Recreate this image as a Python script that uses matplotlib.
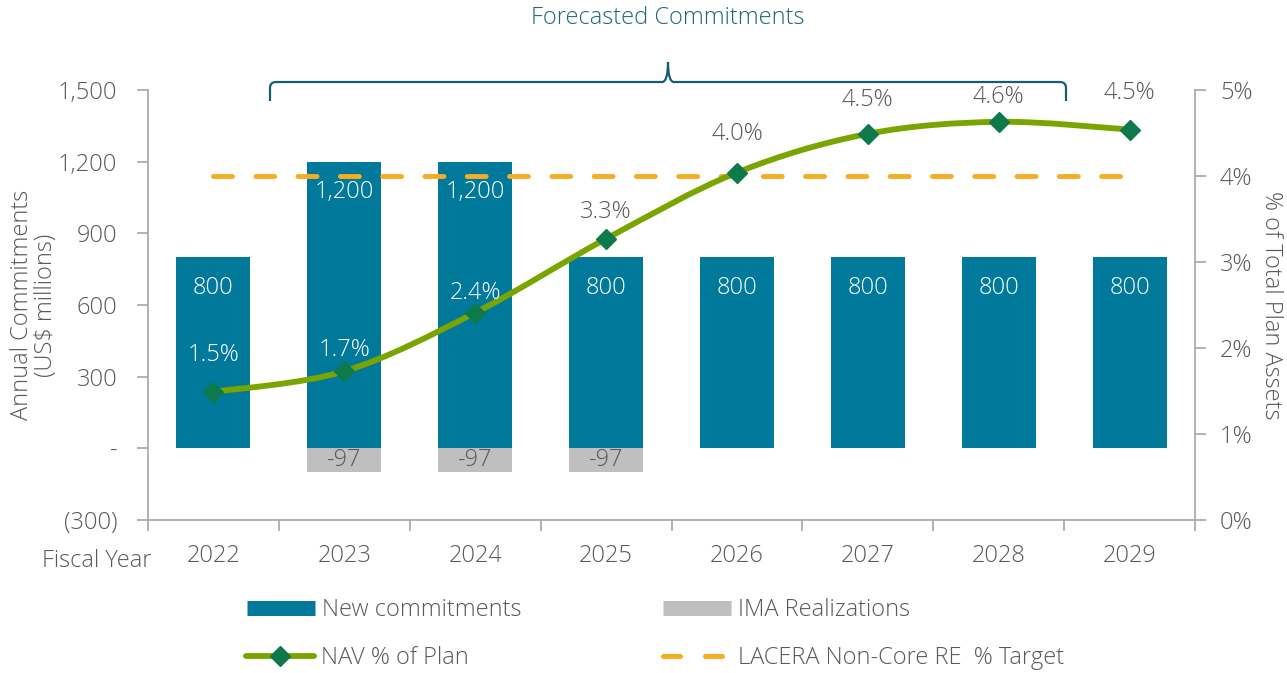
import matplotlib
matplotlib.use("Agg")
import matplotlib.pyplot as plt
from matplotlib.path import Path
from matplotlib.patches import PathPatch
from matplotlib.lines import Line2D
import numpy as np

plt.rcParams['font.family'] = ['Open Sans', 'DejaVu Sans']
plt.rcParams['font.weight'] = 'light'

years = ['2022', '2023', '2024', '2025', '2026', '2027', '2028', '2029']
new_commitments = [800, 1200, 1200, 800, 800, 800, 800, 800]
ima_realizations = [0, -97, -97, -97, 0, 0, 0, 0]
nav_pct = [1.49, 1.73, 2.41, 3.27, 4.04, 4.49, 4.63, 4.54]
target_pct = [4.0] * 8
left_ticks = [-300, 0, 300, 600, 900, 1200, 1500]
left_tick_labels = ['(300)', '-', '300', '600', '900', '1,200', '1,500']
right_ticks = [0, 1, 2, 3, 4, 5]

TEAL = '#00799A'
GRAY = '#BFBFBF'
GREEN = '#7AA500'
DKGREEN = '#0E7A4B'
ORANGE = '#F7AC22'
TXT = '#595959'
AXC = '#A6A6A6'
TITLE = '#1F6878'
FS = 17

W, H = 1287, 673
fig = plt.figure(figsize=(W / 100, H / 100), dpi=100)
ax = fig.add_axes([148 / W, 1 - 520 / H, (1195 - 148) / W, (520 - 90) / H])
ax2 = ax.twinx()

x = np.arange(len(years))
w = 0.565
ax.bar(x, new_commitments, width=w, color=TEAL, zorder=2)
ax.bar(x, ima_realizations, width=w, color=GRAY, zorder=2)

for xi, v in zip(x, new_commitments):
    ax.annotate(f'{v:,}', (xi, v), xytext=(0, -22), textcoords='offset points',
                ha='center', va='center', color='white', fontsize=FS)
for xi, v in zip(x, ima_realizations):
    if v != 0:
        ax.annotate(f'{v}', (xi, v / 2), ha='center', va='center', color=TXT, fontsize=FS)

ax.set_xlim(-0.5, len(years) - 0.5)
ax.set_ylim(-300, 1500)
ax.set_yticks(left_ticks)
ax.set_yticklabels(left_tick_labels)
ax.set_xticks(x)
ax.set_xticklabels(years)
ax.set_xticks(np.arange(-0.5, len(years)), minor=True)
ax.tick_params(axis='x', which='major', length=0, pad=17, labelsize=FS, labelcolor=TXT)
ax.tick_params(axis='x', which='minor', length=8, color=AXC, width=1.2)
ax.tick_params(axis='y', length=8, color=AXC, width=1.2, labelsize=FS, labelcolor=TXT, pad=14)
for s in ['top', 'right']:
    ax.spines[s].set_visible(False)
for s in ['left', 'bottom']:
    ax.spines[s].set_color(AXC)
    ax.spines[s].set_linewidth(1.2)

ax2.set_ylim(0, 5)
ax2.set_yticks(right_ticks)
ax2.set_yticklabels([f'{t}%' for t in right_ticks])
ax2.tick_params(axis='y', length=8, color=AXC, width=1.2, labelsize=FS, labelcolor=TXT, pad=10)
for s in ['top', 'left', 'bottom']:
    ax2.spines[s].set_visible(False)
ax2.spines['right'].set_color(AXC)
ax2.spines['right'].set_linewidth(1.2)

# target dashed line
ax2.plot(x, target_pct, color=ORANGE, lw=3.5, ls=(0, (3.9, 4.8)),
         dash_capstyle='round', zorder=3)

# smooth NAV line (Bezier rendering through data points)
px = x.astype(float)
py = np.array(nav_pct, dtype=float)
verts = [(px[0], py[0])]
codes = [Path.MOVETO]
n = len(px)
for i in range(n - 1):
    p0 = (px[max(i - 1, 0)], py[max(i - 1, 0)])
    p1 = (px[i], py[i])
    p2 = (px[i + 1], py[i + 1])
    p3 = (px[min(i + 2, n - 1)], py[min(i + 2, n - 1)])
    c1 = (p1[0] + (p2[0] - p0[0]) / 6, p1[1] + (p2[1] - p0[1]) / 6)
    c2 = (p2[0] - (p3[0] - p1[0]) / 6, p2[1] - (p3[1] - p1[1]) / 6)
    verts += [c1, c2, p2]
    codes += [Path.CURVE4] * 3
ax2.add_patch(PathPatch(Path(verts, codes), fill=False, edgecolor=GREEN, lw=4.2,
                        zorder=4, capstyle='round'))
ax2.plot(x, nav_pct, ls='none', marker='D', ms=10.5, color=DKGREEN, zorder=5)

label_colors = ['white', 'white', 'white', TXT, TXT, TXT, TXT, TXT]
offsets = [26.5, 15, 14, 19, 28, 24.5, 18, 26]
for xi, v, c, o in zip(x, nav_pct, label_colors, offsets):
    ax2.annotate(f'{v:.1f}%', (xi, v), xytext=(0, o), textcoords='offset points',
                 ha='center', va='center', color=c, fontsize=FS, zorder=6)

fig.text(22 / W, 1 - 305 / H, 'Annual Commitments', fontsize=FS, color=TXT,
         rotation=90, ha='center', va='center')
fig.text(46 / W, 1 - 305 / H, '(US$ millions)', fontsize=FS, color=TXT,
         rotation=90, ha='center', va='center')
fig.text(1271 / W, 1 - 305 / H, '% of Total Plan Assets', fontsize=FS, color=TXT,
         rotation=270, ha='center', va='center')

fig.text(42 / W, 1 - 561 / H, 'Fiscal Year', fontsize=FS, color=TXT, ha='left', va='center')
fig.text(668 / W, 1 - 18 / H, 'Forecasted Commitments', fontsize=FS, color=TITLE,
         ha='center', va='center')

# bracket (pixel coords)
def fy(y):
    return H - y
bx0, bx1, bm, by, bend, btop, r = 270, 1066, 668, 82, 101, 62, 6
bv = [(bx0, fy(bend)), (bx0, fy(by + r)), (bx0, fy(by)), (bx0 + r, fy(by)),
      (bm - r, fy(by)), (bm, fy(by)), (bm, fy(btop)),
      (bm, fy(by)), (bm + r, fy(by)),
      (bx1 - r, fy(by)), (bx1, fy(by)), (bx1, fy(by + r)), (bx1, fy(bend))]
bc = [Path.MOVETO, Path.LINETO, Path.CURVE3, Path.CURVE3,
      Path.LINETO, Path.CURVE3, Path.CURVE3,
      Path.CURVE3, Path.CURVE3,
      Path.LINETO, Path.CURVE3, Path.CURVE3, Path.LINETO]
fig.add_artist(PathPatch(Path(bv, bc), fill=False, edgecolor='#145E72', lw=1.6,
                         transform=None))

# legend entries placed individually
entries = [
    (Line2D([0], [0], color=TEAL, lw=10.8, solid_capstyle='butt'), 'New commitments', 247, 610),
    (Line2D([0], [0], color=GRAY, lw=10.8, solid_capstyle='butt'), 'IMA Realizations', 663, 610),
    (Line2D([0], [0], color=GREEN, lw=4.2, marker='D', ms=10.5, solid_capstyle='round',
            markerfacecolor=DKGREEN, markeredgecolor=DKGREEN), 'NAV % of Plan', 246, 658),
    (Line2D([0], [0], color=ORANGE, lw=3.6, ls=(0, (3.4, 5.0)), dash_capstyle='round'),
     'LACERA Non-Core RE  % Target', 663, 658),
]
for h, lab, lx, ly in entries:
    fig.legend([h], [lab], loc='center left', bbox_to_anchor=(lx / W, 1 - ly / H),
               frameon=False, fontsize=FS, labelcolor=TXT, handlelength=2.88,
               handletextpad=0.3, borderaxespad=0, borderpad=0)

fig.savefig('out.png', dpi=100)
